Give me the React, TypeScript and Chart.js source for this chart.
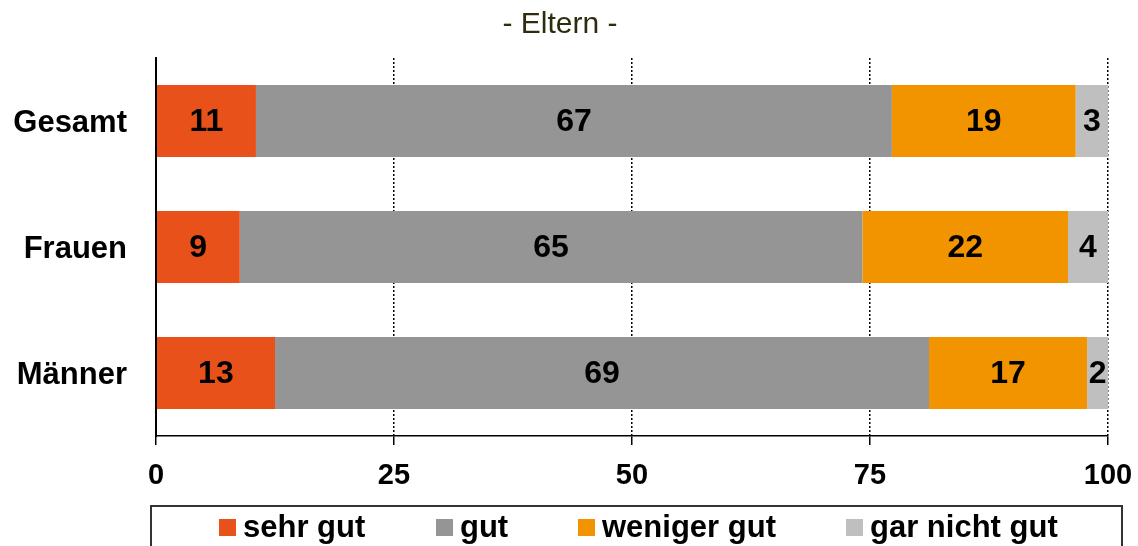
import React, { useEffect, useRef } from "react";
import { Chart, registerables } from "chart.js";

Chart.register(...registerables);

const TITLE = "- Eltern -";
const categories = ["Gesamt", "Frauen", "Männer"];
const seriesNames = ["sehr gut", "gut", "weniger gut", "gar nicht gut"];
const sehrGut = [10.5, 8.8, 12.5];
const gut = [66.8, 65.4, 68.7];
const wenigerGut = [19.3, 21.6, 16.6];
const garNichtGut = [3.4, 4.2, 2.2];
const xTicks = [0, 25, 50, 75, 100];
const colors = ["#E8521A", "#959595", "#F29300", "#BFBFBF"];

const FONT = '"Liberation Sans", Arial, Helvetica, sans-serif';
const LEGEND_X = [219, 436, 578, 846];

const overlayPlugin = {
  id: "overlay",
  afterDatasetsDraw(chart: any) {
    const ctx = chart.ctx;
    ctx.save();
    ctx.font = `bold 32px ${FONT}`;
    ctx.fillStyle = "#000";
    ctx.textAlign = "center";
    ctx.textBaseline = "middle";
    chart.data.datasets.forEach((ds: any, di: number) => {
      const meta = chart.getDatasetMeta(di);
      meta.data.forEach((el: any, i: number) => {
        const v = ds.data[i];
        const p = el.getProps(["x", "y", "base"], true);
        const cx = (p.x + p.base) / 2;
        ctx.fillText(String(Math.round(v)), cx, p.y + 1.5);
      });
    });
    ctx.restore();
  },
  afterDraw(chart: any) {
    const ctx = chart.ctx;
    ctx.save();
    // title
    ctx.font = `30px ${FONT}`;
    ctx.fillStyle = "#2f2c10";
    ctx.textAlign = "center";
    ctx.textBaseline = "alphabetic";
    ctx.fillText(TITLE, 560, 33);
    // legend box
    ctx.strokeStyle = "#333";
    ctx.lineWidth = 2;
    ctx.strokeRect(151, 506, 971, 60);
    ctx.font = `bold 31px ${FONT}`;
    ctx.textAlign = "left";
    chart.data.datasets.forEach((ds: any, i: number) => {
      const x = LEGEND_X[i];
      ctx.fillStyle = ds.backgroundColor;
      ctx.fillRect(x, 519, 17, 17);
      ctx.fillStyle = "#000";
      ctx.fillText(ds.label, x + 24, 537);
    });
    ctx.restore();
  },
};

export default function App() {
  const ref = useRef<HTMLCanvasElement>(null);
  useEffect(() => {
    document.body.style.margin = "0";
    const seriesData = [sehrGut, gut, wenigerGut, garNichtGut];
    const chart = new Chart(ref.current!, {
      type: "bar",
      data: {
        labels: categories,
        datasets: seriesNames.map((name, i) => ({
          label: name,
          data: seriesData[i],
          backgroundColor: colors[i],
          borderWidth: 0,
          barPercentage: 72 / 126,
          categoryPercentage: 1,
        })),
      },
      options: {
        indexAxis: "y",
        responsive: false,
        animation: false,
        layout: { padding: { top: 58, right: 30, left: 0, bottom: 0 } },
        plugins: {
          legend: { display: false },
          title: { display: false },
          tooltip: { enabled: false },
        },
        scales: {
          x: {
            stacked: true,
            min: 0,
            max: 100,
            afterBuildTicks(scale: any) {
              scale.ticks = xTicks.map((v) => ({ value: v }));
            },
            afterFit(scale: any) {
              scale.height = 110;
              scale.paddingLeft = 0;
              scale.paddingRight = 0;
            },
            ticks: {
              font: { family: FONT, size: 29, weight: "bold" },
              color: "#000",
              padding: 14,
              maxRotation: 0,
            },
            grid: {
              color: "#000",
              lineWidth: 1.5,
              drawTicks: true,
              tickLength: 9,
              tickColor: "#000",
              tickWidth: 1.5,
              tickBorderDash: [],
            },
            border: { display: true, color: "#000", width: 1.5, dash: [2, 2], z: 1 },
          },
          y: {
            stacked: true,
            afterFit(scale: any) {
              scale.width = 156;
            },
            ticks: {
              font: { family: FONT, size: 31, weight: "bold" },
              color: "#000",
              padding: 29,
              labelOffset: 2,
            },
            grid: { display: false, drawTicks: false },
            border: { display: true, color: "#000", width: 2, z: 1 },
          },
        },
      },
      plugins: [overlayPlugin],
    } as any);
    return () => chart.destroy();
  }, []);
  return (
    <div style={{ width: 1138, height: 546 }}>
      <canvas ref={ref} width={1138} height={546} style={{ width: 1138, height: 546 }} />
    </div>
  );
}
